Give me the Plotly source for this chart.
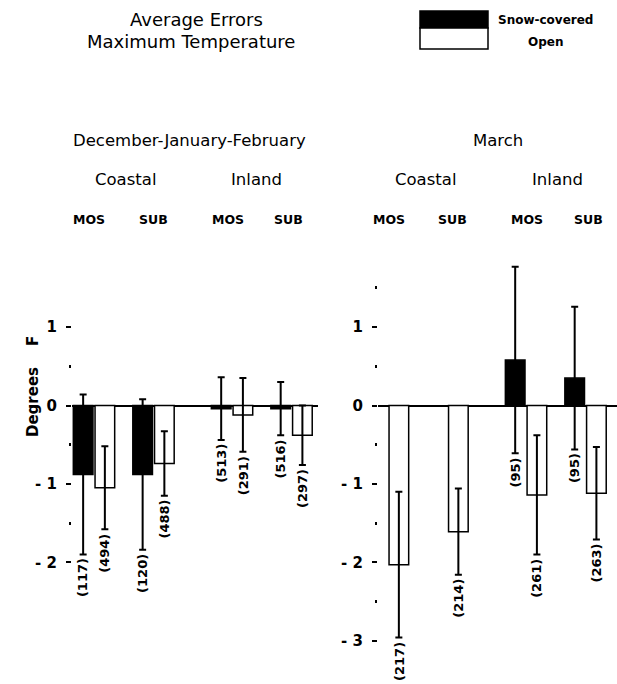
import plotly.graph_objects as go

# ---- data ----
groups = ["Coastal MOS", "Coastal SUB", "Inland MOS", "Inland SUB"]
group_pos = [0, 1, 2.32, 3.32]

djf_snow = [-0.88, -0.88, -0.04, -0.04]
djf_snow_err = [1.02, 0.96, 0.40, 0.34]
djf_snow_n = ["(117)", "(120)", "(513)", "(516)"]
djf_open = [-1.05, -0.74, -0.12, -0.38]
djf_open_err = [0.53, 0.41, 0.47, 0.38]
djf_open_n = ["(494)", "(488)", "(291)", "(297)"]

mar_snow = [None, None, 0.58, 0.35]
mar_snow_err = [None, None, 1.19, 0.91]
mar_snow_n = [None, None, "(95)", "(95)"]
mar_open = [-2.03, -1.61, -1.14, -1.12]
mar_open_err = [0.93, 0.55, 0.76, 0.59]
mar_open_n = ["(217)", "(214)", "(261)", "(263)"]

left_ticks = [-2, -1, 0, 1]
left_minor = [-1.5, -0.5, 0.5]
right_ticks = [-3, -2, -1, 0, 1]
right_minor = [-2.5, -1.5, -0.5, 0.5, 1.5]

W, H = 617, 684
FONT = "DejaVu Sans"
BW = 0.33   # bar width (data units)
GAP = 0.035


def px(x):
    return x / W


def py(y):
    return 1 - y / H


fig = go.Figure()

annotations = []


def add_panel(snow, snow_err, snow_n, opn, opn_err, opn_n, xa, ya):
    sx = [p - GAP / 2 - BW / 2 for p in group_pos]
    ox = [p + GAP / 2 + BW / 2 for p in group_pos]
    fig.add_trace(go.Bar(x=sx, y=snow, width=BW, xaxis=xa, yaxis=ya,
                         marker=dict(color="black", line=dict(color="black", width=1.5)),
                         showlegend=False, name="Snow-covered"))
    fig.add_trace(go.Bar(x=ox, y=opn, width=BW, xaxis=xa, yaxis=ya,
                         marker=dict(color="white", line=dict(color="black", width=1.5)),
                         showlegend=False, name="Open"))
    for xs, vals, errs in ((sx, snow, snow_err), (ox, opn, opn_err)):
        fig.add_trace(go.Scatter(x=xs, y=vals, xaxis=xa, yaxis=ya, mode="markers",
                                 marker=dict(size=1, color="black", opacity=0),
                                 error_y=dict(type="data", array=errs, visible=True,
                                              color="black", thickness=2, width=3.5),
                                 showlegend=False, hoverinfo="skip"))
    for xs, vals, errs, ns in ((sx, snow, snow_err, snow_n), (ox, opn, opn_err, opn_n)):
        for x, v, e, n in zip(xs, vals, errs, ns):
            if v is None:
                continue
            annotations.append(dict(x=x, y=v - e, xref=xa, yref=ya, text=f"<b>{n}</b>",
                                    textangle=-90, showarrow=False, yanchor="top",
                                    xanchor="center", yshift=-2,
                                    font=dict(family=FONT, size=13, color="black")))


add_panel(djf_snow, djf_snow_err, djf_snow_n, djf_open, djf_open_err, djf_open_n, "x", "y")
add_panel(mar_snow, mar_snow_err, mar_snow_n, mar_open, mar_open_err, mar_open_n, "x2", "y2")

UNIT = 59.5
YR = [-3.5, 2.0]
ydom = [py(405.5 + 78.4 * 3.5), py(405.5 - 78.4 * 2.0)]

L0, L1 = 72, 318
R0, R1 = 378, 617
left_range = [-(94 - L0) / UNIT, (L1 - 94) / UNIT]
right_range = [-(388 - R0) / UNIT, (R1 - 388) / UNIT]

common_y = dict(range=YR, domain=ydom, showgrid=False, showline=False,
                zeroline=True, zerolinecolor="black", zerolinewidth=2,
                ticks="outside", ticklen=5, tickwidth=2, tickcolor="black",
                ticklabelstandoff=6,
                tickfont=dict(family=FONT, size=15, color="black"),
                tickmode="array")

fig.update_layout(
    width=W, height=H, plot_bgcolor="white", paper_bgcolor="white",
    margin=dict(l=0, r=0, t=0, b=0), barmode="overlay",
    xaxis=dict(domain=[px(L0), px(L1)], range=left_range, visible=False),
    xaxis2=dict(domain=[px(R0), px(R1)], range=right_range, visible=False, anchor="y2"),
    yaxis=dict(**common_y, tickvals=left_ticks,
               ticktext=[f"<b>{str(t).replace('-', '- ')}</b>" for t in left_ticks],
               minor=dict(tickmode="array", tickvals=left_minor, ticks="outside",
                          ticklen=2, tickwidth=3, tickcolor="black", showgrid=False),
               anchor="x"),
    yaxis2=dict(**common_y, tickvals=right_ticks,
                ticktext=[f"<b>{str(t).replace('-', '- ')}</b>" for t in right_ticks],
                minor=dict(tickmode="array", tickvals=right_minor, ticks="outside",
                           ticklen=2, tickwidth=3, tickcolor="black", showgrid=False),
                anchor="x2"),
)


def txt(x, y, s, size=14, bold=False):
    annotations.append(dict(x=px(x), y=py(y), xref="paper", yref="paper",
                            text=f"<b>{s}</b>" if bold else s,
                            showarrow=False, xanchor="center", yanchor="middle",
                            font=dict(family=FONT, size=size, color="black")))


txt(196, 20, "Average Errors", 18)
txt(191, 41, "Maximum Temperature", 18)
txt(545, 20, "Snow-covered", 12, True)
txt(545, 42, "Open", 12, True)
txt(189, 140, "December-January-February", 16.5)
txt(498, 140, "March", 16.5)
txt(126, 179, "Coastal", 16.5)
txt(256, 179, "Inland", 16.5)
txt(426, 179, "Coastal", 16.5)
txt(557, 179, "Inland", 16.5)

for x, s in ((89, "MOS"), (153, "SUB"), (228, "MOS"), (288, "SUB"),
             (389, "MOS"), (452, "SUB"), (527, "MOS"), (588, "SUB")):
    txt(x, 219, s, 12.5, True)

annotations.append(dict(x=px(22), y=py(387), xref="paper", yref="paper",
                        text="<b>Degrees    F</b>", textangle=-90, showarrow=False,
                        font=dict(family=FONT, size=15, color="black")))

fig.update_layout(annotations=annotations)

fig.add_shape(type="rect", xref="paper", yref="paper", x0=px(420), x1=px(488), y0=py(28), y1=py(11),
              fillcolor="black", line=dict(color="black", width=1.5))
fig.add_shape(type="rect", xref="paper", yref="paper", x0=px(420), x1=px(488), y0=py(49), y1=py(28),
              fillcolor="white", line=dict(color="black", width=1.5))

fig.write_html("out.html", config={"displayModeBar": False},
               post_script="document.body.style.margin='0';document.body.style.overflow='hidden';")
